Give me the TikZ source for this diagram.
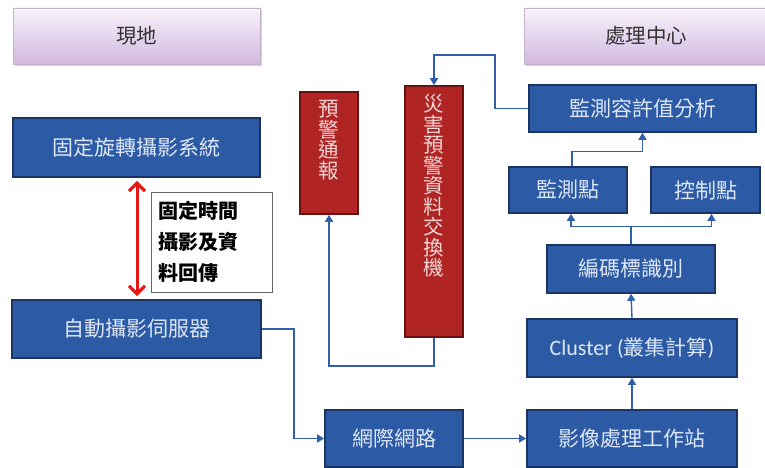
\documentclass[tikz,border=0pt]{standalone}
\usepackage{fontspec}
\setmainfont{Noto Sans CJK TC}
\newfontfamily\latfont{Carlito}
\usetikzlibrary{arrows.meta,shadows,calc}
\definecolor{bfill}{RGB}{44,90,164}
\definecolor{bdraw}{RGB}{28,52,100}
\definecolor{btext}{RGB}{222,231,246}
\definecolor{rfill}{RGB}{176,36,36}
\definecolor{rdraw}{RGB}{105,16,16}
\definecolor{rtext}{RGB}{242,214,214}
\definecolor{ptop}{RGB}{248,242,250}
\definecolor{pbot}{RGB}{210,184,224}
\definecolor{pdraw}{RGB}{196,178,206}
\definecolor{conn}{RGB}{48,96,172}
\definecolor{redarrow}{RGB}{232,22,22}
\tikzset{
  headbox/.style={draw=pdraw, line width=0.8pt, top color=ptop, bottom color=pbot,
    drop shadow={shadow xshift=1.5pt, shadow yshift=-2pt, opacity=0.35},
    font=\fontsize{20.5}{22}\selectfont, text=black!80},
  bluebox/.style={draw=bdraw, line width=1.6pt, fill=bfill, text=btext,
    font=\fontsize{21}{23}\selectfont, inner sep=0pt},
  redbox/.style={draw=rdraw, line width=1.6pt, fill=rfill, inner sep=0pt},
  vtext/.style={text=rtext, align=center, font=\fontsize{20.5}{20.5}\selectfont, inner sep=0pt, anchor=north},
  conline/.style={draw=conn, line width=1.4pt},
  carrow/.style={conline, -{Triangle[length=7pt,width=8pt]}},
  notebox/.style={draw=black!60, line width=0.9pt, fill=white, align=left,
    font=\bfseries\fontsize{20}{31}\selectfont, inner sep=0pt}
}
\begin{document}
\begin{tikzpicture}[x=1pt,y=-1pt]
\useasboundingbox (0,0) rectangle (765,468);
% header boxes
\node[headbox, minimum width=247, minimum height=56] (site) at (136.5,36) {現地};
\node[headbox, minimum width=244, minimum height=56] (proc) at (646,36) {處理中心};
% left column
\node[bluebox, minimum width=247, minimum height=59] (fixed) at (136.5,147.5) {固定旋轉攝影系統};
\node[bluebox, minimum width=249, minimum height=58] (server) at (136.5,329) {自動攝影伺服器};
\node[notebox, minimum width=121, minimum height=100, text width=107] (note) at (211.5,242) {固定時間\\攝影及資\\料回傳};
% red boxes
\node[redbox, minimum width=58, minimum height=122] (warn) at (329,153) {};
\node[vtext] (warnT) at ($(warn.north)+(0,9)$) {預\\警\\通\\報};
\node[redbox, minimum width=58, minimum height=251] (exch) at (434,211.5) {};
\node[vtext] (exchT) at ($(exch.north)+(0,9)$) {災\\害\\預\\警\\資\\料\\交\\換\\機};
% right column
\node[bluebox, minimum width=227, minimum height=47] (anal) at (642.5,108.5) {監測容許值分析};
\node[bluebox, minimum width=118, minimum height=46] (mon) at (568,190) {監測點};
\node[bluebox, minimum width=109, minimum height=46] (ctl) at (705.5,190) {控制點};
\node[bluebox, minimum width=168, minimum height=48] (code) at (631,269) {編碼標識別};
\node[bluebox, minimum width=210, minimum height=58] (clus) at (632,348) {{\latfont\fontsize{22}{24}\selectfont Cluster (}叢集計算{\latfont\fontsize{22}{24}\selectfont )}};
\node[bluebox, minimum width=138, minimum height=57] (inet) at (394,438.5) {網際網路};
\node[bluebox, minimum width=210, minimum height=57] (img) at (632,438.5) {影像處理工作站};
% red double arrow
\draw[draw=redarrow, line width=3pt, {Straight Barb[length=8pt,width=16pt,line width=3.2pt]}-{Straight Barb[length=8pt,width=16pt,line width=3.2pt]}]
  ($(fixed.south)+(0.5,3)$) -- ($(server.north)+(0.5,-3)$);
% connectors
\draw[carrow] (server.east) -- ++(32,0) |- (inet.west);
\draw[carrow] (inet.east) -- (img.west);
\draw[carrow] (img.north) -- (clus.south);
\draw[carrow] (clus.north) -- (code.south);
\coordinate (fork) at ($(code.north)+(0,-18)$);
\draw[conline] (code.north) -- (fork);
\draw[carrow] (fork) -| ($(mon.south)+(3,0)$);
\draw[carrow] (fork) -| ($(ctl.south)+(6,0)$);
\draw[carrow] ($(mon.north)+(4,0)$) -- ++(0,-15) -| (anal.south);
\coordinate (turn) at (495,55);
\draw[carrow] (anal.west) -| (turn) -| (exch.north);
\draw[carrow] (exch.south) -- ++(0,28) -| (warn.south);
\end{tikzpicture}
\end{document}
